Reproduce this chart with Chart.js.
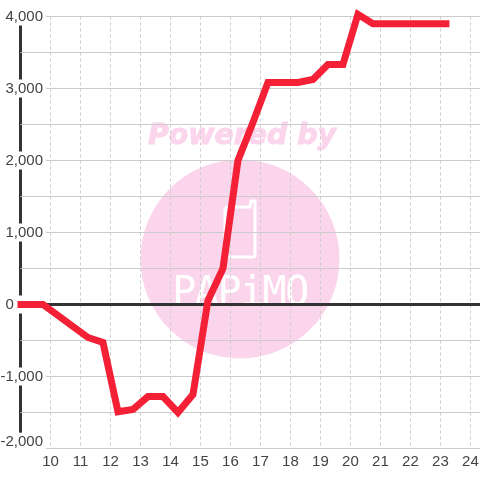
<!DOCTYPE html>
<html>
<head>
<meta charset="utf-8">
<style>
  html, body { margin: 0; padding: 0; background: #fff; }
  #wrap { width: 480px; height: 480px; }
</style>
</head>
<body>
<div id="wrap"><canvas id="myChart" width="480" height="480"></canvas></div>
<script src="https://cdn.jsdelivr.net/npm/chart.js"></script>
<script>
  const hours = [8.9, 9.25, 9.75, 10.25, 10.75, 11.25, 11.75, 12.25, 12.75, 13.25, 13.75, 14.25, 14.75, 15.25, 15.75, 16.25, 16.75, 17.25, 17.75, 18.25, 18.75, 19.25, 19.75, 20.25, 20.75, 21.25, 21.75, 22.25, 22.75, 23.3];
  const values = [0, 0, 0, -153, -306, -458, -528, -1490, -1458, -1278, -1278, -1500, -1250, 55, 500, 2000, 2528, 3083, 3083, 3083, 3125, 3333, 3333, 4030, 3900, 3900, 3900, 3900, 3900, 3900];

  const fontName = '"Liberation Sans", Arial, sans-serif';
  // the bottom label sits a little above its gridline in the original
  const bottomLabelTick = -1905;

  // watermark sits behind the grid
  const watermark = {
    id: 'watermark',
    beforeDraw(chart) {
      const c = chart.ctx;
      c.save();
      c.fillStyle = '#fbd5ec';
      c.strokeStyle = '#fbd5ec';
      c.beginPath();
      c.arc(240, 259, 99.5, 0, Math.PI * 2);
      c.fill();

      c.font = 'italic bold 28.4px "DejaVu Sans"';
      c.textAlign = 'center';
      c.textBaseline = 'middle';
      c.lineWidth = 1;
      c.fillText('Powered by', 242, 136.5);
      c.strokeText('Powered by', 242, 136.5);

      // phone outline
      c.strokeStyle = '#fff';
      c.lineWidth = 3;
      c.lineJoin = 'round';
      c.beginPath();
      c.moveTo(225, 254);
      c.lineTo(225, 211);
      c.quadraticCurveTo(225, 207, 229, 207);
      c.lineTo(250, 207);
      c.lineTo(251, 201);
      c.lineTo(255, 201);
      c.lineTo(255, 255);
      c.quadraticCurveTo(255, 257, 252, 257);
      c.lineTo(228, 257);
      c.quadraticCurveTo(225, 257, 225, 254);
      c.stroke();

      c.fillStyle = '#fff';
      c.font = '40px "DejaVu Sans Mono"';
      c.letterSpacing = '-1.5px';
      c.fillText('PAPiMO', 240, 295);
      c.restore();
    }
  };

  new Chart(document.getElementById('myChart'), {
    type: 'line',
    data: {
      labels: hours,
      datasets: [{
        data: values,
        borderColor: '#f32036',
        borderWidth: 7,
        pointRadius: 0,
        tension: 0,
        clip: false
      }]
    },
    plugins: [watermark],
    options: {
      responsive: false,
      animation: false,
      layout: { padding: { left: 20.5, top: 16.5, right: 0, bottom: 5.5 } },
      plugins: { legend: { display: false }, tooltip: { enabled: false } },
      scales: {
        x: {
          type: 'linear',
          min: 9,
          max: 24.32,
          // grid runs to the canvas edge, no room kept for the last label
          afterFit: scale => { scale.paddingRight = 0; },
          grid: {
            color: ctx => ctx.tick && ctx.tick.value === 9 ? '#333' : '#ccc',
            lineWidth: ctx => ctx.tick && ctx.tick.value === 9 ? 3 : 1,
            drawTicks: false
          },
          border: { display: false, dash: ctx => ctx.tick && ctx.tick.value === 9 ? [] : [3, 3] },
          ticks: {
            stepSize: 1,
            includeBounds: false,
            autoSkip: false,
            maxRotation: 0,
            padding: 4,
            color: '#444',
            font: { family: fontName, size: 15 },
            callback: v => v === 9 ? '' : String(v)
          }
        },
        y: {
          position: { x: 9.75 },
          min: -2000,
          max: 4000,
          afterBuildTicks: scale => { scale.ticks.push({ value: bottomLabelTick }); },
          grid: {
            color: ctx => {
              if (!ctx.tick) return '#ccc';
              if (ctx.tick.value === bottomLabelTick) return 'rgba(0,0,0,0)';
              return ctx.tick.value === 0 ? '#333' : '#ccc';
            },
            lineWidth: ctx => ctx.tick && ctx.tick.value === 0 ? 3 : 1,
            drawTicks: false
          },
          border: { display: false },
          ticks: {
            stepSize: 500,
            autoSkip: false,
            padding: 0,
            color: '#444',
            font: { family: fontName, size: 15 },
            // blank ticks must not paint a white stub over the grid
            showLabelBackdrop: ctx => !!(ctx.tick && ctx.tick.label),
            backdropColor: '#fff',
            backdropPadding: { left: 1, right: 3, top: 0, bottom: 0 },
            callback: v => {
              if (v === bottomLabelTick) return '-2,000';
              if (v === -2000 || v % 1000 !== 0) return '';
              // zero label stands left of the axis, spaces push it there
              if (v === 0) return '0       ';
              return v.toLocaleString('en-US');
            }
          }
        }
      }
    }
  });
</script>
</body>
</html>
